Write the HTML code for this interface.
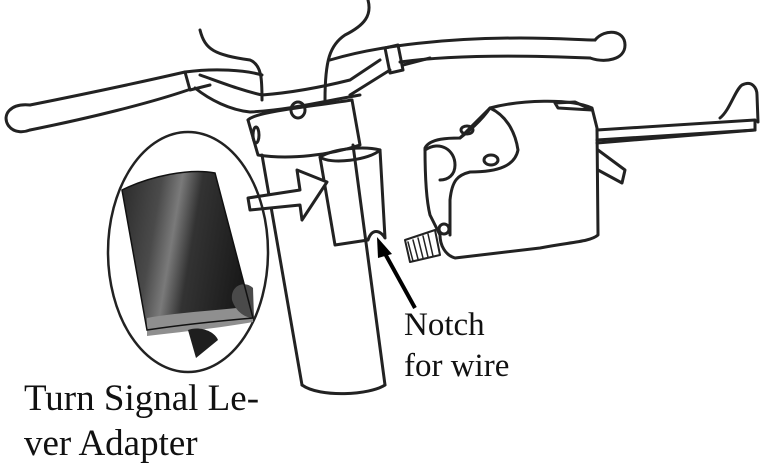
<!DOCTYPE html>
<html><head><style>
html,body{margin:0;padding:0;background:#fff;width:782px;height:467px;overflow:hidden}
svg{position:absolute;left:0;top:0}
.t{font-family:"Liberation Serif",serif;fill:#111}
</style></head><body>
<svg width="782" height="467" viewBox="0 0 782 467" xmlns="http://www.w3.org/2000/svg">
<defs>
<linearGradient id="g" x1="0" x2="1" y1="0" y2="0.2">
<stop offset="0" stop-color="#2a2a2a"/><stop offset="0.3" stop-color="#4a4a4a"/><stop offset="0.45" stop-color="#7a7a7a"/><stop offset="0.6" stop-color="#333"/><stop offset="1" stop-color="#1a1a1a"/>
</linearGradient>
</defs>
<g fill="none" stroke="#222" stroke-width="3" stroke-linejoin="round" stroke-linecap="round">
<path d="M200 30 C205 50 215 55 250 60 C262 65 262 80 262 100"/>
<path d="M368 0 C372 15 365 25 345 35 C330 45 325 60 325 100"/>
<path d="M30 105 C80 95 150 80 185 72 C215 68 245 70 262 75"/>
<path d="M30 130 C90 118 150 103 188 90"/>
<path d="M30 105 C10 103 2 115 8 125 C14 134 25 132 30 130"/>
<path d="M185 72 L190 90 L210 85"/>
<path d="M195 88 C210 100 230 110 250 112 C290 110 330 100 360 95"/>
<path d="M200 75 C220 82 240 90 262 95 C300 92 330 85 350 80 L380 60"/>
<path d="M330 60 C380 45 450 38 520 38 C560 38 580 40 595 40"/>
<path d="M400 62 C450 55 520 55 590 58"/>
<path d="M595 40 C605 28 625 30 625 45 C625 60 605 63 590 58"/>
<path d="M385 48 L398 45 L403 70 L390 73 Z"/>
<path d="M403 65 L430 58"/>
<path d="M350 95 L390 70"/>
<path d="M248 120 C255 112 300 108 352 100"/>
<path d="M248 120 L258 155 C290 160 330 155 360 145 L352 100"/>
<ellipse cx="256" cy="135" rx="3" ry="8"/>
<ellipse cx="298" cy="110" rx="7" ry="8"/>
<path d="M262 155 L302 385"/>
<path d="M353 145 L385 385"/>
<path d="M302 385 C320 398 370 395 385 385"/>
<path d="M320 157 C335 148 365 146 380 150 L385 238 C380 230 372 228 368 240 L335 245 Z"/>
<path d="M320 157 C330 165 370 160 380 150"/>
<path fill="#fff" d="M248 198 L300 190 L297 170 L327 182 L302 220 L300 205 L250 210 Z"/>
<ellipse cx="188" cy="252" rx="80" ry="120" stroke-width="2.5"/>
<path fill="#fff" d="M490 108 C520 100 570 98 592 108 L597 128 L598 235 C590 242 570 242 540 248 L455 258 C445 255 440 245 440 235 L430 215 C425 195 425 160 425 148 C430 138 450 138 460 138 Z"/>
<path d="M460 138 C468 132 482 120 490 108 C505 115 515 130 518 150 C515 165 500 172 470 172 C458 175 452 180 450 200 L450 235"/>
<path d="M425 150 C440 140 455 150 455 165 C455 175 448 180 440 180"/>
<ellipse cx="467" cy="130" rx="6" ry="4"/>
<ellipse cx="491" cy="160" rx="7" ry="5"/>
<ellipse cx="444" cy="229" rx="5" ry="5"/>
<path d="M555 103 L575 102 L592 110 L558 108 Z"/>
<path d="M597 130 L755 120 L755 130 L597 143"/>
<path d="M597 140 L755 130"/>
<path d="M720 118 C730 110 735 90 742 85 C752 80 757 88 757 95 L758 122"/>
<path d="M598 150 L625 170 L622 183 L598 170"/>
<path fill="#fff" stroke-width="2" d="M405 240 L435 230 L440 255 L410 262 Z"/>
<path stroke-width="1.5" d="M408 242 L413 261 M413 240 L418 259 M418 238 L423 258 M423 236 L428 257 M428 234 L433 256"/>
</g>
<path d="M122 190 C150 176 190 168 215 173 L253 318 C230 320 180 325 147 330 Z" fill="url(#g)"/>
<path d="M147 330 L147 318 C180 312 225 310 253 306 L253 322 C220 328 180 332 147 336 Z" fill="#8f8f8f"/>
<path d="M188 330 C198 326 214 330 218 340 L196 358 Z" fill="#1e1e1e"/>
<path d="M232 300 C230 285 245 280 253 288 L254 318 C245 318 236 312 232 300 Z" fill="#4a4a4a"/>
<path d="M122 190 C150 176 190 168 215 173 L253 318 C230 320 180 325 147 330 Z" fill="none" stroke="#111" stroke-width="1.5"/>
<path d="M415 308 L383 250" stroke="#000" stroke-width="4"/>
<path d="M377 237 L392 254 L378 258 Z" fill="#000"/>
<text class="t" x="24" y="410" font-size="37">Turn Signal Le-</text>
<text class="t" x="24" y="455" font-size="37">ver Adapter</text>
<text class="t" x="404" y="335" font-size="33">Notch</text>
<text class="t" x="404" y="376" font-size="33">for wire</text>
</svg>
</body></html>
